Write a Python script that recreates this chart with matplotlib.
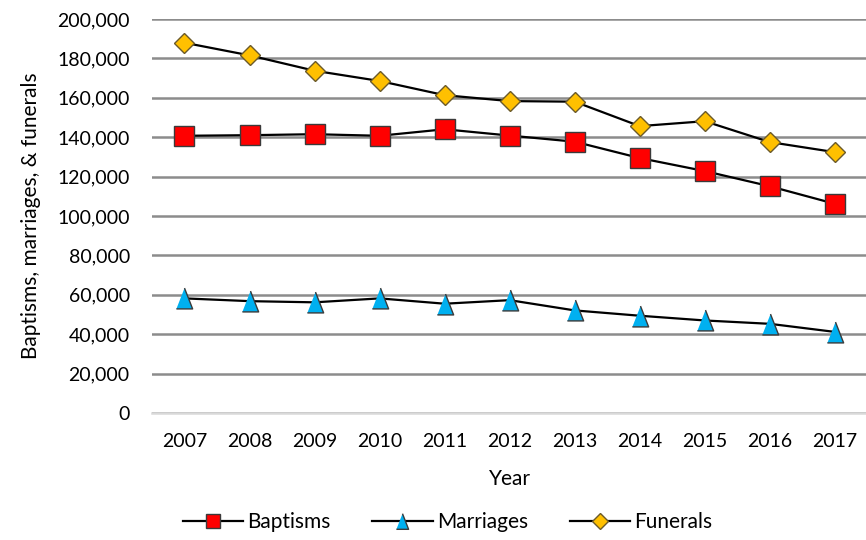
import matplotlib
matplotlib.use('Agg')
import matplotlib.pyplot as plt
from matplotlib.ticker import FuncFormatter

# Data
years = [2007, 2008, 2009, 2010, 2011, 2012, 2013, 2014, 2015, 2016, 2017]
baptisms = [140700, 141000, 141500, 140700, 144000, 140800, 137700, 129400, 122800, 115100, 106200]
marriages = [58200, 56800, 56200, 58200, 55500, 57300, 52100, 49400, 47000, 45300, 41200]
funerals = [187900, 181500, 173700, 168500, 161300, 158300, 158000, 145600, 148100, 137500, 132400]

plt.rcParams['font.family'] = ['Lato', 'DejaVu Sans']

fig = plt.figure(figsize=(8.66, 5.4), dpi=100)
ax = fig.add_axes([0.1755, 0.235, 0.826, 0.73])

x = list(range(len(years)))
tri = [(-0.78, -1), (0.78, -1), (0, 1)]

ax.plot(x, baptisms, color='black', lw=1.6, marker='s', markersize=14,
        markerfacecolor='#FF0000', markeredgecolor='#3a3a3a', markeredgewidth=1,
        label='Baptisms', zorder=3)
ax.plot(x, marriages, color='black', lw=1.6, marker=tri, markersize=15,
        markerfacecolor='#00B0F0', markeredgecolor='#3a3a3a', markeredgewidth=1,
        label='Marriages', zorder=3)
ax.plot(x, funerals, color='black', lw=1.6, marker='D', markersize=10.5,
        markerfacecolor='#FFC000', markeredgecolor='#6b5a2a', markeredgewidth=1,
        label='Funerals', zorder=3)

ax.set_xlim(-0.5, len(years) - 0.5)
ax.set_ylim(0, 200000)
ax.set_yticks(range(0, 200001, 20000))
ax.yaxis.set_major_formatter(FuncFormatter(lambda v, p: f"{int(v):,}"))
ax.set_xticks(x)
ax.set_xticklabels([str(y) for y in years])

ax.grid(axis='y', color='#8c8c8c', lw=1.8)
ax.set_axisbelow(True)
for s in ['top', 'right', 'left']:
    ax.spines[s].set_visible(False)
ax.spines['bottom'].set_color('#d9d9d9')
ax.spines['bottom'].set_linewidth(1.8)
ax.spines['bottom'].set_zorder(2)

ax.tick_params(axis='y', length=0, pad=16, labelsize=14)
ax.tick_params(axis='x', length=0, pad=14, labelsize=14)

ax.set_xlabel('Year', fontsize=15, labelpad=14)
ax.set_ylabel('Baptisms, marriages, & funerals', fontsize=15, labelpad=12)

ax.legend(loc='center', bbox_to_anchor=(0.413, -0.277), ncol=3, frameon=False,
          fontsize=15, markerscale=0.75, handlelength=2.9, columnspacing=2.0,
          handletextpad=0.2)

plt.savefig('out.png', dpi=100)
plt.close()
